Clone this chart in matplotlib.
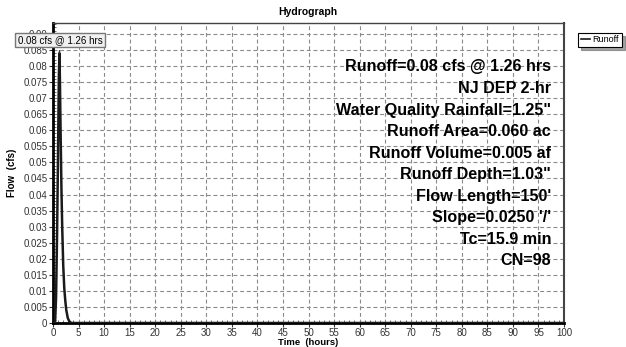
import matplotlib
matplotlib.use("Agg")
import matplotlib.pyplot as plt
from matplotlib.ticker import MultipleLocator, FuncFormatter

plt.rcParams['font.family'] = ['Liberation Sans', 'DejaVu Sans']

# Data (hours, cfs)
time_hrs = [0, 0.4, 0.6, 0.8, 0.95, 1.05, 1.15, 1.26, 1.35, 1.5, 1.65, 1.8, 2.0, 2.2, 2.4, 2.6, 2.9, 3.2, 3.6, 100]
flow_cfs = [0, 0, 0.008, 0.028, 0.048, 0.063, 0.077, 0.084, 0.076, 0.058, 0.042, 0.03, 0.018, 0.011, 0.007, 0.004, 0.0015, 0.0005, 0, 0]

peak_label = "0.08 cfs @ 1.26 hrs"
peak_t = 1.26
peak_q = 0.084

info_lines = [
    "Runoff=0.08 cfs @ 1.26 hrs",
    "NJ DEP 2-hr",
    "Water Quality Rainfall=1.25\"",
    "Runoff Area=0.060 ac",
    "Runoff Volume=0.005 af",
    "Runoff Depth=1.03\"",
    "Flow Length=150'",
    "Slope=0.0250 '/'",
    "Tc=15.9 min",
    "CN=98",
]

x_ticks = list(range(0, 101, 5))
y_ticks = [i * 0.005 for i in range(19)]

fig = plt.figure(figsize=(6.26, 3.47), dpi=100)
W, H = 626, 347
left, right, top, bottom = 53, 564, 23, 323
ax = fig.add_axes([left / W, 1 - bottom / H, (right - left) / W, (bottom - top) / H])

ax.plot(time_hrs, flow_cfs, color='#1a1a1a', lw=1.8, zorder=3, label='Runoff')
ax.set_xlim(0, 100)
ax.set_ylim(0, 0.0934)

ax.set_xticks(x_ticks)
ax.set_yticks(y_ticks)
ax.xaxis.set_minor_locator(MultipleLocator(1))
ax.yaxis.set_minor_locator(MultipleLocator(0.001))
ax.yaxis.set_major_formatter(FuncFormatter(lambda v, p: ('%g' % round(v, 4))))
ax.tick_params(axis='both', which='major', direction='out', length=3, labelsize=7, colors='#333333', pad=1)
ax.tick_params(axis='x', which='major', pad=0.5)
ax.tick_params(axis='both', which='minor', direction='in', length=2, color='#555555')

ax.grid(True, which='major', linestyle=(0, (3.5, 2.5)), color='#8a8a8a', lw=0.8)

for s in ['left', 'bottom']:
    ax.spines[s].set_linewidth(2)
    ax.spines[s].set_color('black')
ax.spines['right'].set_linewidth(1.5)
ax.spines['right'].set_color('#444444')
ax.spines['top'].set_linewidth(1)
ax.spines['top'].set_color('#444444')

fig.text(308 / W, 1 - 12 / H, 'Hydrograph', ha='center', va='center', fontsize=7.5, fontweight='bold')
fig.text(308 / W, 1 - 342.5 / H, 'Time  (hours)', ha='center', va='center', fontsize=6.8, fontweight='bold')
fig.text(12 / W, 1 - 173 / H, 'Flow  (cfs)', ha='center', va='center', fontsize=7, fontweight='bold', rotation=90)

# Info text block
y0 = 67
for i, line in enumerate(info_lines):
    fig.text(551 / W, 1 - (y0 + i * 21.5) / H, line, ha='right', va='center',
             fontsize=11.6, fontweight='bold', color='black')

# Peak annotation
ax.annotate(peak_label, xy=(peak_t, peak_q), xytext=(60 / W, 1 - 40 / H),
            textcoords='figure fraction', ha='center', va='center', fontsize=7,
            bbox=dict(boxstyle='square,pad=0.25', fc='#f0f0f0', ec='#777777', lw=1),
            arrowprops=dict(arrowstyle='-', color='#333333', lw=1), zorder=5)

# Legend
leg = fig.legend(loc='center', bbox_to_anchor=(600 / W, 1 - 40 / H), fontsize=6.5,
                 frameon=True, fancybox=False, shadow=True, handlelength=1.0,
                 handletextpad=0.3, borderpad=0.3, borderaxespad=0)
leg.get_frame().set_edgecolor('black')
leg.get_frame().set_linewidth(0.8)
for h in leg.get_lines():
    h.set_linewidth(1.2)

fig.savefig('out.png', dpi=100)
